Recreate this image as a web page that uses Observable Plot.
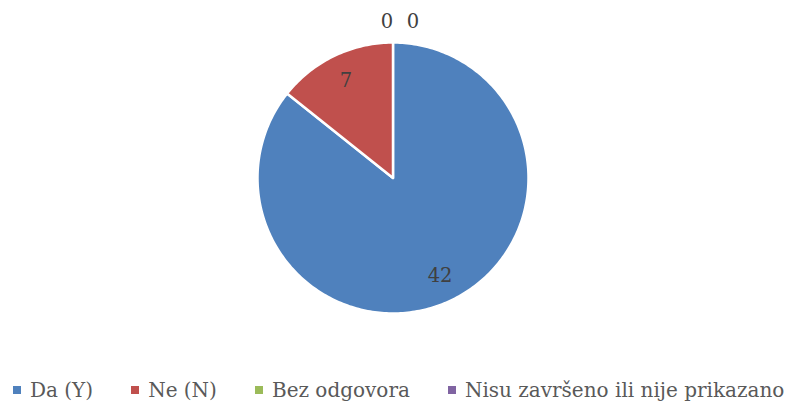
<!DOCTYPE html>
<html>
<head>
<meta charset="utf-8">
<script src="https://cdn.jsdelivr.net/npm/d3@7"></script>
<script src="https://cdn.jsdelivr.net/npm/@observablehq/plot@0.6"></script>
<style>
  html, body { margin: 0; padding: 0; background: #fff; }
  #chart { width: 786px; height: 403px; position: relative; overflow: hidden; }
  .legend { display: flex; align-items: center; position: absolute; left: 13px; top: 378px;
    font-family: "DejaVu Serif", serif; font-size: 20px; color: #595959; white-space: nowrap; }
  .item { display: flex; align-items: center; margin-right: 38px; }
  .sw { width: 8px; height: 8px; margin-right: 9px; }
</style>
</head>
<body>
<div id="chart"></div>
<script>
const categories = ["Da (Y)", "Ne (N)", "Bez odgovora", "Nisu završeno ili nije prikazano"];
const values = [42, 7, 0, 0];
const colors = ["#4F81BD", "#C0504D", "#9BBB59", "#8064A2"];

const data = categories.map((c, i) => ({category: c, value: values[i]}));
const arcs = d3.pie().sort(null).value(d => d.value)(data);

// polygon points for each non-empty slice, in unit-circle coordinates
const slicePts = [];
arcs.forEach(a => {
  if (a.data.value <= 0) return;
  const n = Math.max(2, Math.ceil((a.endAngle - a.startAngle) / (Math.PI / 180)));
  slicePts.push({category: a.data.category, x: 0, y: 0});
  for (let k = 0; k <= n; k++) {
    const t = a.startAngle + (a.endAngle - a.startAngle) * k / n;
    slicePts.push({category: a.data.category, x: Math.sin(t), y: Math.cos(t)});
  }
  slicePts.push({category: a.data.category, x: 0, y: 0});
});

const inner = arcs.filter(a => a.data.value > 0).map(a => {
  const m = (a.startAngle + a.endAngle) / 2;
  return {label: String(a.data.value), x: 0.8 * Math.sin(m), y: 0.8 * Math.cos(m)};
});
const zeros = arcs.filter(a => a.data.value === 0).map(a => {
  const m = a.startAngle;
  return {label: String(a.data.value), x: 1.15 * Math.sin(m), y: 1.15 * Math.cos(m)};
});

const cx = 392.5, cy = 177.5, r = 135.5;
const labelFont = {fontFamily: "DejaVu Serif, serif", fontSize: 19.5, fill: "#404040"};

const plot = Plot.plot({
  width: 786,
  height: 370,
  margin: 0,
  x: {domain: [-1, 1], range: [cx - r, cx + r], axis: null},
  y: {domain: [-1, 1], range: [cy + r, cy - r], axis: null},
  color: {domain: categories, range: colors},
  marks: [
    Plot.line(slicePts, {x: "x", y: "y", z: "category", fill: "category", stroke: "white", strokeWidth: 2.5, curve: "linear"}),
    Plot.text(inner, {x: "x", y: "y", text: "label", ...labelFont}),
    ...zeros.map((d, i) => Plot.text([d], {x: "x", y: "y", text: "label", dx: -6 + 26 * i, ...labelFont}))
  ]
});
plot.style.background = "white";
const chart = document.getElementById("chart");
chart.appendChild(plot);

const legend = document.createElement("div");
legend.className = "legend";
categories.forEach((c, i) => {
  const it = document.createElement("div");
  it.className = "item";
  const sw = document.createElement("span");
  sw.className = "sw";
  sw.style.background = colors[i];
  const tx = document.createElement("span");
  tx.textContent = c;
  it.appendChild(sw); it.appendChild(tx);
  legend.appendChild(it);
});
chart.appendChild(legend);
</script>
</body>
</html>
